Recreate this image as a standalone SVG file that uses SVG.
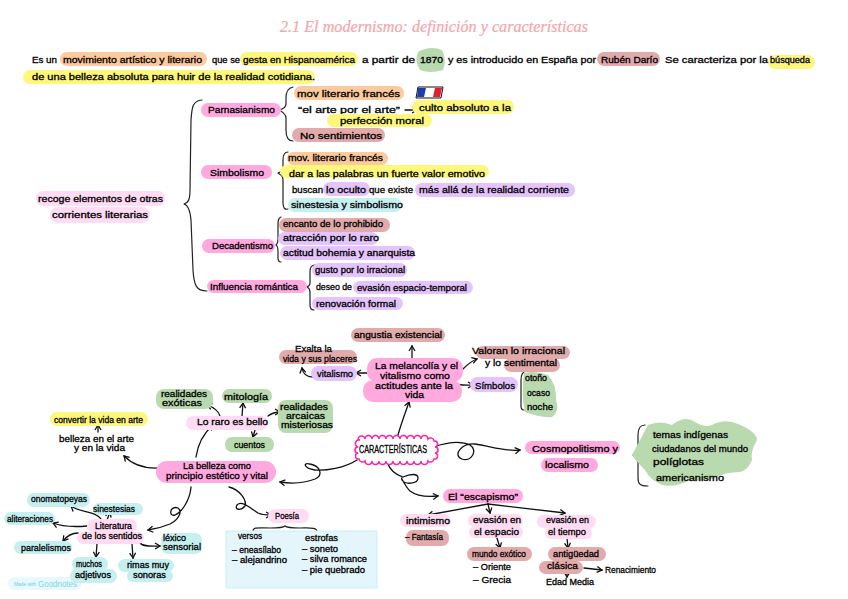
<svg xmlns="http://www.w3.org/2000/svg" width="848" height="599" viewBox="0 0 848 599">
<style>
text{font-family:"Liberation Sans",Arial,sans-serif;font-size:9px;fill:#000;stroke:#000;stroke-width:.3}
.t{font-family:"Liberation Serif",serif;font-style:italic;font-size:17px;fill:#f6a5a9;stroke:#f6a5a9;stroke-width:.2}
.o{fill:#fdca9d}.y{fill:#fdf87c}.g{fill:#b9d9af}.r{fill:#e2abab}.p{fill:#ffa9de}.l{fill:#ffdcf3}.v{fill:#e4c4fb}.c{fill:#c6eff0}
.w{fill:none;stroke:#222;stroke-width:1.2;stroke-linecap:round;stroke-linejoin:round}
.a{fill:none;stroke:#111;stroke-width:1.3;stroke-linecap:round;marker-end:url(#h)}
</style>
<defs>
<marker id="h" markerUnits="userSpaceOnUse" markerWidth="9" markerHeight="9" refX="6" refY="4" orient="auto"><path d="M1,1 L6,4 L1,7" fill="none" stroke="#111" stroke-width="1.3"/></marker>
</defs>
<rect width="848" height="599" fill="#fff"/>
<text id="title" class="t" x="280" y="32" textLength="308" lengthAdjust="spacingAndGlyphs">2.1 El modernismo: definición y características</text>

<g id="intro">
<rect class="o" x="60" y="52" width="147" height="14" rx="7"/>
<rect class="y" x="240" y="52" width="118" height="14" rx="7"/>
<path class="g" d="M418,52 Q430,45 442,50 Q447,60 443,70 Q430,74 420,70 Q414,60 418,52Z"/>
<rect class="r" x="597" y="52" width="63" height="14" rx="7"/>
<rect class="y" x="768" y="55" width="47" height="14" rx="7"/>
<rect class="y" x="23" y="70" width="292" height="14" rx="7"/>
<text x="32" y="63" textLength="25" lengthAdjust="spacingAndGlyphs">Es un</text>
<text x="63" y="63" textLength="139" lengthAdjust="spacingAndGlyphs">movimiento artístico y literario</text>
<text x="212" y="63" textLength="28" lengthAdjust="spacingAndGlyphs">que se</text>
<text x="243" y="63" textLength="112" lengthAdjust="spacingAndGlyphs">gesta en Hispanoamérica</text>
<text x="362" y="63" textLength="53" lengthAdjust="spacingAndGlyphs">a partir de</text>
<text x="420" y="63" textLength="23" lengthAdjust="spacingAndGlyphs">1870</text>
<text x="448" y="63" textLength="148" lengthAdjust="spacingAndGlyphs">y es introducido en España por</text>
<text x="601" y="63" textLength="57" lengthAdjust="spacingAndGlyphs">Rubén Darío</text>
<text x="665" y="63" textLength="103" lengthAdjust="spacingAndGlyphs">Se caracteriza por la</text>
<text x="770" y="63" textLength="40" lengthAdjust="spacingAndGlyphs">búsqueda</text>
<text x="32" y="80" textLength="283" lengthAdjust="spacingAndGlyphs">de una belleza absoluta para huir de la realidad cotidiana.</text>
</g>

<g id="recoge">
<rect class="l" x="36" y="191" width="129" height="15" rx="7"/>
<rect class="l" x="50" y="207" width="100" height="16" rx="8"/>
<text x="38" y="202" textLength="125" lengthAdjust="spacingAndGlyphs">recoge elementos de otras</text>
<text x="52" y="218" textLength="96" lengthAdjust="spacingAndGlyphs">corrientes literarias</text>
</g>

<g id="connectors">
<path class="w" d="M202,100 C192,101 192,108 191,120 L190,190 C190,200 188,203 184,204 C188,205 190,209 191,220 L193,270 C194,285 196,291 207,291"/>
<path class="w" d="M293,87 C288,88 286,92 286,98 L286,104 C286,107 283,109 279,110 C283,112 286,114 286,118 L286,130 C286,137 288,141 293,141"/>
<path class="w" d="M288,152 C284,152 283,155 283,160 L283,168 C283,171 281,172 278,173 C281,175 283,176 283,180 L283,203 C283,208 285,210 288,209"/>
<path class="w" d="M281,217 C278,218 278,221 278,226 L278,240 C278,243 277,244 276,245 C278,246 278,248 278,252 L278,258 C278,261 279,262 281,262"/>
<path class="w" d="M315,265 C311,265 310,268 310,272 L310,283 C310,285 309,286 307,287 C309,288 310,290 310,292 L310,305 C310,308 311,310 314,310"/>
<path class="w" d="M526,371 C522,372 521,375 521,380 L521,406 C521,409 522,410 524,410"/>
<path class="w" d="M645,425 C640,425 638,428 638,435 L638,448 C638,452 636,454 633,455 C636,457 638,459 638,463 L638,478 C638,484 640,486 648,486"/>
<path class="w" d="M253,531 C253,527 258,528 270,528 C278,528 283,528 285,526 C287,528 292,528 300,528 C310,528 317,527 317,532"/>

<path class="a" d="M405,110 L417,110"/>
<path class="a" d="M412,363 L412,346"/>
<path class="a" d="M367,373 L356,373"/>
<path class="a" d="M313,377 C307,377 303,374 302,368"/>
<path class="a" d="M463,369 C467,365 471,361 477,359"/>
<path class="a" d="M453,382 C458,386 465,385 473,385"/>
<path class="a" d="M398,435 C401,424 405,414 409,402"/>
<path class="a" d="M433,447 C445,443 460,440 470,445 C478,450 472,462 462,459 C452,455 462,443 475,444 C490,446 505,452 520,450"/>
<path class="a" d="M357,460 C345,468 325,471 315,470 C303,468 303,462 310,464 C320,466 324,475 315,479 C302,484 292,484 280,482"/>
<path class="a" d="M387,462 C390,470 396,475 403,477 C410,474 418,473 418,478 C418,484 405,485 402,480 C400,474 404,485 410,491 C418,497 428,497 438,496"/>
<path class="a" d="M488,504 L428,515"/>
<path class="a" d="M488,504 L490,513"/>
<path class="a" d="M488,504 L565,513"/>
<path class="a" d="M497,538 L500,548"/>
<path class="a" d="M567,538 L568,548"/>
<path class="a" d="M584,568 L602,570"/>
<path class="a" d="M567,574 L567,577"/>
<path class="a" d="M168,467 C150,470 135,467 124,456"/>
<path class="a" d="M98,432 L98,425"/>
<path class="a" d="M196,457 C198,443 205,432 213,425"/>
<path class="a" d="M220,416 C218,410 213,407 207,405"/>
<path class="a" d="M242,416 L243,403"/>
<path class="a" d="M268,416 C272,413 275,412 280,412"/>
<path class="a" d="M255,430 L253,437"/>
<path class="a" d="M191,487 C190,500 182,512 175,515 C168,517 170,505 178,508 C183,512 178,520 170,524 C163,527 155,529 148,530"/>
<path class="a" d="M229,487 C240,490 247,500 245,506 C241,511 234,510 237,505 C242,500 250,508 258,513 C262,515 267,515 271,515"/>
<path class="a" d="M107,520 L110,512"/>
<path class="a" d="M102,520 C95,510 80,513 71,506"/>
<path class="a" d="M87,526 C75,527 63,527 53,523"/>
<path class="a" d="M78,533 C72,533 67,536 63,541"/>
<path class="a" d="M97,544 L96,557"/>
<path class="a" d="M132,544 L133,558"/>
<path class="a" d="M140,543 C143,547 152,546 160,546"/>
</g>

<g id="parnasianismo">
<rect class="p" x="201" y="103" width="80" height="14" rx="7"/>
<text x="208" y="113" textLength="67" lengthAdjust="spacingAndGlyphs">Parnasianismo</text>
<rect class="o" x="294" y="86" width="110" height="14" rx="7"/>
<text x="297" y="97" textLength="103" lengthAdjust="spacingAndGlyphs">mov literario francés</text>
<path d="M418,87 L443,87 L441,98 L416,98Z" fill="#fff" stroke="#111" stroke-width="1"/>
<path d="M418,88 L426,88 L424,97 L417,97Z" fill="#1a3fa8"/>
<path d="M435,88 L442,88 L440,97 L433,97Z" fill="#e02030"/>
<text x="298" y="113" textLength="102" lengthAdjust="spacingAndGlyphs">“el arte por el arte”</text>
<rect class="y" x="412" y="100" width="102" height="14" rx="7"/>
<text x="419" y="111" textLength="92" lengthAdjust="spacingAndGlyphs">culto absoluto a la</text>
<rect class="y" x="327" y="114" width="105" height="13" rx="6.5"/>
<text x="340" y="124" textLength="84" lengthAdjust="spacingAndGlyphs">perfección moral</text>
<rect class="r" x="292" y="128" width="93" height="14" rx="7"/>
<text x="300" y="139" textLength="82" lengthAdjust="spacingAndGlyphs">No sentimientos</text>
</g>

<g id="simbolismo">
<rect class="p" x="201" y="165" width="71" height="14" rx="7"/>
<text x="210" y="176" textLength="54" lengthAdjust="spacingAndGlyphs">Simbolismo</text>
<rect class="o" x="287" y="152" width="101" height="13" rx="6.5"/>
<text x="288" y="161" textLength="95" lengthAdjust="spacingAndGlyphs">mov. literario francés</text>
<rect class="y" x="280" y="165" width="209" height="13" rx="6.5"/>
<text x="289" y="177" textLength="196" lengthAdjust="spacingAndGlyphs">dar a las palabras un fuerte valor emotivo</text>
<rect class="v" x="323" y="182" width="47" height="14" rx="7"/>
<rect class="v" x="415" y="183" width="160" height="14" rx="7"/>
<text x="292" y="193" textLength="31" lengthAdjust="spacingAndGlyphs">buscan</text>
<text x="326" y="193" textLength="40" lengthAdjust="spacingAndGlyphs">lo oculto</text>
<text x="369" y="193" textLength="44" lengthAdjust="spacingAndGlyphs">que existe</text>
<text x="419" y="193" textLength="150" lengthAdjust="spacingAndGlyphs">más allá de la realidad corriente</text>
<rect class="c" x="288" y="198" width="114" height="14" rx="7"/>
<text x="291" y="208" textLength="112" lengthAdjust="spacingAndGlyphs">sinestesia y simbolismo</text>
</g>

<g id="decadentismo">
<rect class="p" x="202" y="239" width="73" height="14" rx="7"/>
<text x="212" y="249" textLength="61" lengthAdjust="spacingAndGlyphs">Decadentismo</text>
<rect class="r" x="279" y="218" width="111" height="14" rx="7"/>
<text x="283" y="227" textLength="100" lengthAdjust="spacingAndGlyphs">encanto de lo prohibido</text>
<rect class="v" x="278" y="232" width="100" height="13" rx="6.5"/>
<text x="283" y="241" textLength="96" lengthAdjust="spacingAndGlyphs">atracción por lo raro</text>
<rect class="v" x="280" y="246" width="135" height="14" rx="7"/>
<text x="283" y="256" textLength="132" lengthAdjust="spacingAndGlyphs">actitud bohemia y anarquista</text>
</g>

<g id="influencia">
<rect class="p" x="207" y="280" width="100" height="13" rx="6.5"/>
<text x="210" y="290" textLength="88" lengthAdjust="spacingAndGlyphs">Influencia romántica</text>
<rect class="v" x="312" y="263" width="95" height="14" rx="7"/>
<text x="315" y="273" textLength="90" lengthAdjust="spacingAndGlyphs">gusto por lo irracional</text>
<text x="316" y="290" textLength="36" lengthAdjust="spacingAndGlyphs">deseo de</text>
<rect class="v" x="353" y="281" width="120" height="13" rx="6.5"/>
<text x="357" y="291" textLength="110" lengthAdjust="spacingAndGlyphs">evasión espacio-temporal</text>
<rect class="v" x="312" y="297" width="91" height="13" rx="6.5"/>
<text x="316" y="307" textLength="80" lengthAdjust="spacingAndGlyphs">renovación formal</text>
</g>

<g id="caracteristicas">
<path d="M358,440 a3.5,3.5 0 0 1 7,-1 a3.5,3.5 0 0 1 7,0 a3.5,3.5 0 0 1 7,0 a3.5,3.5 0 0 1 7,0 a3.5,3.5 0 0 1 7,0 a3.5,3.5 0 0 1 7,0 a3.5,3.5 0 0 1 7,0 a3.5,3.5 0 0 1 7,0 a3.5,3.5 0 0 1 7,0 a3.5,3.5 0 0 1 7,0 a3.5,3.5 0 0 1 6,2 a3,3 0 0 1 1,6 a3,3 0 0 1 0,6 a3,3 0 0 1 -1,6 a3.5,3.5 0 0 1 -6,2 a3.5,3.5 0 0 1 -7,0 a3.5,3.5 0 0 1 -7,0 a3.5,3.5 0 0 1 -7,0 a3.5,3.5 0 0 1 -7,0 a3.5,3.5 0 0 1 -7,0 a3.5,3.5 0 0 1 -7,0 a3.5,3.5 0 0 1 -7,0 a3.5,3.5 0 0 1 -7,0 a3.5,3.5 0 0 1 -7,0 a3.5,3.5 0 0 1 -6,-2 a3,3 0 0 1 -1,-6 a3,3 0 0 1 0,-6 a3,3 0 0 1 2,-7Z" fill="#fff" stroke="#ff1fa8" stroke-width="1.5"/>
<text x="359" y="453" textLength="68" lengthAdjust="spacingAndGlyphs" style="font-size:10px">CARACTERÍSTICAS</text>
</g>

<g id="melancolia">
<rect class="p" x="367" y="358" width="96" height="24" rx="10"/>
<rect class="p" x="363" y="380" width="99" height="22" rx="10"/>
<text x="375" y="369" textLength="83" lengthAdjust="spacingAndGlyphs">La melancolía y el</text>
<text x="380" y="379" textLength="70" lengthAdjust="spacingAndGlyphs">vitalismo como</text>
<text x="375" y="389" textLength="78" lengthAdjust="spacingAndGlyphs">actitudes ante la</text>
<text x="405" y="398" textLength="19" lengthAdjust="spacingAndGlyphs">vida</text>
</g>
<g id="angustia">
<rect class="r" x="351" y="328" width="94" height="14" rx="7"/>
<text x="354" y="338" textLength="88" lengthAdjust="spacingAndGlyphs">angustia existencial</text>
</g>
<g id="vitalismo">
<rect class="v" x="311" y="366" width="46" height="15" rx="7.5"/>
<text x="317" y="377" textLength="36" lengthAdjust="spacingAndGlyphs">vitalismo</text>
</g>
<g id="exalta">
<rect class="r" x="279" y="350" width="78" height="14" rx="7"/>
<text x="295" y="352" textLength="37" lengthAdjust="spacingAndGlyphs">Exalta la</text>
<text x="283" y="362" textLength="74" lengthAdjust="spacingAndGlyphs">vida y sus placeres</text>
</g>
<g id="valoran">
<rect class="r" x="476" y="346" width="94" height="13" rx="6.5"/>
<rect class="r" x="504" y="358" width="56" height="14" rx="7"/>
<text x="472" y="354" textLength="93" lengthAdjust="spacingAndGlyphs">Valoran lo irracional</text>
<text x="485" y="366" textLength="72" lengthAdjust="spacingAndGlyphs">y lo sentimental</text>
</g>
<g id="simbolos">
<rect class="v" x="470" y="377" width="48" height="15" rx="7.5"/>
<text x="475" y="389" textLength="40" lengthAdjust="spacingAndGlyphs">Símbolos</text>
<path class="g" d="M524,373 Q535,370 548,375 Q557,385 556,400 Q560,412 552,417 Q540,418 525,412 Q521,395 524,373Z"/>
<text x="525" y="381" textLength="22" lengthAdjust="spacingAndGlyphs">otoño</text>
<text x="527" y="396" textLength="23" lengthAdjust="spacingAndGlyphs">ocaso</text>
<text x="527" y="410" textLength="26" lengthAdjust="spacingAndGlyphs">noche</text>
</g>

<g id="cosmopolitismo">
<rect class="p" x="525" y="441" width="95" height="13" rx="6.5"/>
<rect class="p" x="541" y="458" width="57" height="14" rx="7"/>
<text x="532" y="452" textLength="86" lengthAdjust="spacingAndGlyphs">Cosmopolitismo y</text>
<text x="545" y="468" textLength="44" lengthAdjust="spacingAndGlyphs">localismo</text>
<path class="g" d="M648,425 Q660,420 672,425 Q685,415 695,422 Q705,428 712,425 Q725,418 738,424 Q757,432 757,440 Q750,452 752,460 Q748,470 740,472 Q725,472 715,478 Q700,482 690,480 Q675,488 662,485 Q650,480 645,470 Q635,460 632,455 Q640,440 648,425Z"/>
<text x="653" y="438" textLength="75" lengthAdjust="spacingAndGlyphs">temas indígenas</text>
<text x="652" y="452" textLength="96" lengthAdjust="spacingAndGlyphs">ciudadanos del mundo</text>
<text x="653" y="465" textLength="51" lengthAdjust="spacingAndGlyphs">políglotas</text>
<text x="656" y="481" textLength="68" lengthAdjust="spacingAndGlyphs">americanismo</text>
</g>

<g id="escapismo">
<rect class="p" x="443" y="489" width="80" height="14" rx="7"/>
<text x="448" y="500" textLength="70" lengthAdjust="spacingAndGlyphs">El “escapismo”</text>
</g>
<g id="intimismo">
<rect class="l" x="400" y="514" width="51" height="13" rx="6.5"/>
<text x="406" y="524" textLength="44" lengthAdjust="spacingAndGlyphs">intimismo</text>
<rect class="r" x="406" y="530" width="43" height="16" rx="7"/>
<text x="405" y="540" textLength="38" lengthAdjust="spacingAndGlyphs">– Fantasía</text>
</g>
<g id="espacio">
<rect class="l" x="468" y="514" width="55" height="13" rx="6.5"/>
<rect class="l" x="469" y="526" width="54" height="12" rx="6"/>
<text x="473" y="523" textLength="48" lengthAdjust="spacingAndGlyphs">evasión en</text>
<text x="474" y="535" textLength="45" lengthAdjust="spacingAndGlyphs">el espacio</text>
<rect class="r" x="467" y="547" width="65" height="14" rx="7"/>
<text x="472" y="557" textLength="54" lengthAdjust="spacingAndGlyphs">mundo exótico</text>
<text x="473" y="570" textLength="38" lengthAdjust="spacingAndGlyphs">– Oriente</text>
<text x="473" y="583" textLength="38" lengthAdjust="spacingAndGlyphs">– Grecia</text>
</g>
<g id="tiempo">
<rect class="l" x="537" y="515" width="59" height="13" rx="6.5"/>
<rect class="l" x="545" y="527" width="47" height="12" rx="6"/>
<text x="546" y="523" textLength="43" lengthAdjust="spacingAndGlyphs">evasión en</text>
<text x="548" y="535" textLength="38" lengthAdjust="spacingAndGlyphs">el tiempo</text>
<rect class="r" x="548" y="547" width="58" height="14" rx="7"/>
<rect class="r" x="539" y="561" width="44" height="13" rx="6.5"/>
<text x="553" y="557" textLength="46" lengthAdjust="spacingAndGlyphs">antigüedad</text>
<text x="547" y="569" textLength="31" lengthAdjust="spacingAndGlyphs">clásica</text>
<text x="605" y="573" textLength="51" lengthAdjust="spacingAndGlyphs">Renacimiento</text>
<text x="546" y="585" textLength="48" lengthAdjust="spacingAndGlyphs">Edad Media</text>
</g>

<g id="belleza">
<rect class="p" x="156" y="461" width="120" height="22" rx="11"/>
<text x="183" y="469" textLength="68" lengthAdjust="spacingAndGlyphs">La belleza como</text>
<text x="166" y="479" textLength="102" lengthAdjust="spacingAndGlyphs">principio estético y vital</text>
</g>
<g id="bellezaarte">
<text x="59" y="442" textLength="75" lengthAdjust="spacingAndGlyphs">belleza en el arte</text>
<text x="74" y="451" textLength="51" lengthAdjust="spacingAndGlyphs">y en la vida</text>
<rect class="y" x="50" y="412" width="98" height="14" rx="7"/>
<text x="54" y="423" textLength="89" lengthAdjust="spacingAndGlyphs">convertir la vida en arte</text>
</g>
<g id="loraro">
<rect class="l" x="186" y="416" width="82" height="14" rx="7"/>
<text x="197" y="425" textLength="71" lengthAdjust="spacingAndGlyphs">Lo raro es bello</text>
<rect class="g" x="156" y="389" width="57" height="20" rx="8"/>
<text x="161" y="397" textLength="46" lengthAdjust="spacingAndGlyphs">realidades</text>
<text x="162" y="406" textLength="40" lengthAdjust="spacingAndGlyphs">exóticas</text>
<rect class="g" x="222" y="389" width="50" height="14" rx="7"/>
<text x="224" y="400" textLength="44" lengthAdjust="spacingAndGlyphs">mitología</text>
<rect class="g" x="278" y="400" width="55" height="33" rx="8"/>
<text x="280" y="410" textLength="48" lengthAdjust="spacingAndGlyphs">realidades</text>
<text x="286" y="419" textLength="39" lengthAdjust="spacingAndGlyphs">arcaicas</text>
<text x="281" y="428" textLength="52" lengthAdjust="spacingAndGlyphs">misteriosas</text>
<rect class="g" x="225" y="437" width="49" height="15" rx="7"/>
<text x="234" y="448" textLength="31" lengthAdjust="spacingAndGlyphs">cuentos</text>
</g>

<g id="goodnotes">
<rect x="8" y="577" width="74" height="13" rx="6.5" fill="#e7f9fb"/>
<text x="14" y="586" textLength="22" lengthAdjust="spacingAndGlyphs" style="font-size:5px;fill:#6fcfd9;stroke:none">Made with</text>
<text x="38" y="587" textLength="39" lengthAdjust="spacingAndGlyphs" style="font-size:9px;fill:#7fd4de;stroke:none">Goodnotes</text>
</g>

<g id="literatura">
<rect class="l" x="87" y="519" width="50" height="14" rx="7"/>
<rect class="l" x="77" y="532" width="67" height="12" rx="6"/>
<text x="95" y="529" textLength="37" lengthAdjust="spacingAndGlyphs">Literatura</text>
<text x="82" y="539" textLength="60" lengthAdjust="spacingAndGlyphs">de los sentidos</text>
<rect class="c" x="93" y="503" width="50" height="12" rx="6"/>
<text x="93" y="512" textLength="42" lengthAdjust="spacingAndGlyphs">sinestesias</text>
<rect class="c" x="27" y="493" width="63" height="14" rx="7"/>
<text x="31" y="502" textLength="56" lengthAdjust="spacingAndGlyphs">onomatopeyas</text>
<rect class="c" x="4" y="512" width="51" height="13" rx="6.5"/>
<text x="7" y="522" textLength="46" lengthAdjust="spacingAndGlyphs">aliteraciones</text>
<rect class="c" x="14" y="541" width="58" height="13" rx="6.5"/>
<text x="21" y="551" textLength="50" lengthAdjust="spacingAndGlyphs">paralelismos</text>
<rect class="c" x="72" y="557" width="36" height="14" rx="7"/>
<rect class="c" x="70" y="569" width="47" height="14" rx="7"/>
<text x="76" y="567" textLength="26" lengthAdjust="spacingAndGlyphs">muchos</text>
<text x="75" y="578" textLength="36" lengthAdjust="spacingAndGlyphs">adjetivos</text>
<rect class="c" x="118" y="559" width="56" height="13" rx="6.5"/>
<rect class="c" x="127" y="570" width="46" height="12" rx="6"/>
<text x="127" y="568" textLength="42" lengthAdjust="spacingAndGlyphs">rimas muy</text>
<text x="133" y="578" textLength="33" lengthAdjust="spacingAndGlyphs">sonoras</text>
<rect class="c" x="161" y="533" width="41" height="21" rx="7"/>
<text x="163" y="541" textLength="23" lengthAdjust="spacingAndGlyphs">léxico</text>
<text x="163" y="550" textLength="38" lengthAdjust="spacingAndGlyphs">sensorial</text>
</g>

<g id="poesia">
<rect class="l" x="268" y="509" width="41" height="14" rx="7"/>
<text x="275" y="519" textLength="24" lengthAdjust="spacingAndGlyphs">Poesía</text>
<rect x="226" y="531" width="151" height="57" fill="#e4f5fb" stroke="#cdeef6" stroke-width="1"/>
<text x="238" y="539" textLength="24" lengthAdjust="spacingAndGlyphs">versos</text>
<text x="232" y="553" textLength="49" lengthAdjust="spacingAndGlyphs">– eneasílabo</text>
<text x="232" y="563" textLength="55" lengthAdjust="spacingAndGlyphs">– alejandrino</text>
<text x="305" y="541" textLength="33" lengthAdjust="spacingAndGlyphs">estrofas</text>
<text x="302" y="552" textLength="36" lengthAdjust="spacingAndGlyphs">– soneto</text>
<text x="302" y="562" textLength="65" lengthAdjust="spacingAndGlyphs">– silva romance</text>
<text x="302" y="573" textLength="63" lengthAdjust="spacingAndGlyphs">– pie quebrado</text>
</g>
</svg>
